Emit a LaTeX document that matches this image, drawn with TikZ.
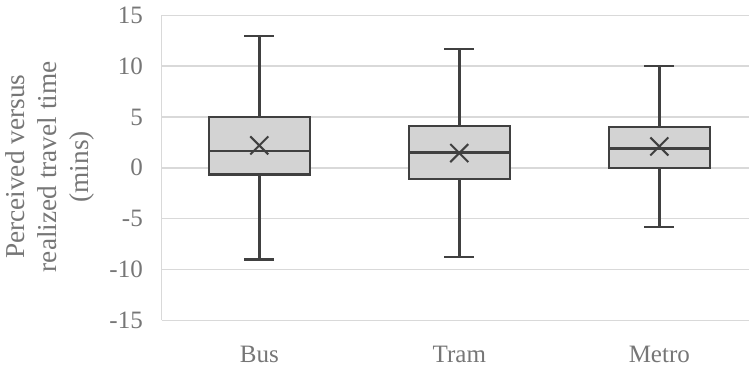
\documentclass[tikz,border=0pt]{standalone}
\usepackage{fontspec}
\setmainfont{Liberation Serif}
\definecolor{txt}{HTML}{767676}
\definecolor{gridc}{HTML}{D9D9D9}
\definecolor{boxfill}{HTML}{D3D3D3}
\definecolor{boxline}{HTML}{404040}
\newcommand\bxplot[7]{% x, lo, q1, med, q3, hi, mean
  \draw[whisk] (#1,#2) -- (#1,#3) (#1,#5) -- (#1,#6);
  \draw[whisk] (#1-15,#2) -- (#1+15,#2) (#1-15,#6) -- (#1+15,#6);
  \draw[boxst] (#1-50.5,#3) rectangle (#1+50.5,#5);
  \draw[whisk] (#1-50.5,#4) -- (#1+50.5,#4);
  \draw[meanx] (#1-9,#7+0.885) -- (#1+9,#7-0.885) (#1-9,#7-0.885) -- (#1+9,#7+0.885);
}
\begin{document}
\begin{tikzpicture}[x=1pt,y=10.17pt,
  gridline/.style={draw=gridc, line width=1.5pt},
  boxst/.style={draw=boxline, fill=boxfill, line width=2.4pt},
  whisk/.style={draw=boxline, line width=2.4pt},
  meanx/.style={draw=boxline, line width=2pt},
  ticklab/.style={text=txt, font=\fontsize{25}{30}\selectfont, anchor=east, inner sep=0pt},
  catlab/.style={text=txt, font=\fontsize{25}{30}\selectfont, anchor=base, inner sep=0pt},
  axtitle/.style={text=txt, font=\fontsize{27.3}{32}\selectfont, rotate=90, align=center, inner sep=0pt},
]
\useasboundingbox (0,-19.784) rectangle (749,16.5);
\foreach \v [count=\i] in {-15,-10,-5,0,5,10,15} {
  \draw[gridline] (161.5,\v) -- (749,\v);
  \node[ticklab] (tick\i) at (143,\v) {\v};
}
\draw[gridline] (161.5,-15) -- (161.5,15);
\bxplot{259.3}{-9.02}{-0.64}{1.68}{4.97}{12.96}{2.2}
\bxplot{459.3}{-8.75}{-1.13}{1.5}{4.1}{11.7}{1.45}
\bxplot{659.3}{-5.8}{0}{1.88}{4.0}{10}{2.1}
\node[catlab] (bus) at (259.3,-19.19) {Bus};
\node[catlab] (tram) at (459.3,-19.19) {Tram};
\node[catlab] (metro) at (659.3,-19.19) {Metro};
\node[axtitle] (ytitle) at (50,0.1) {Perceived versus\\realized travel time\\(mins)};
\end{tikzpicture}
\end{document}
